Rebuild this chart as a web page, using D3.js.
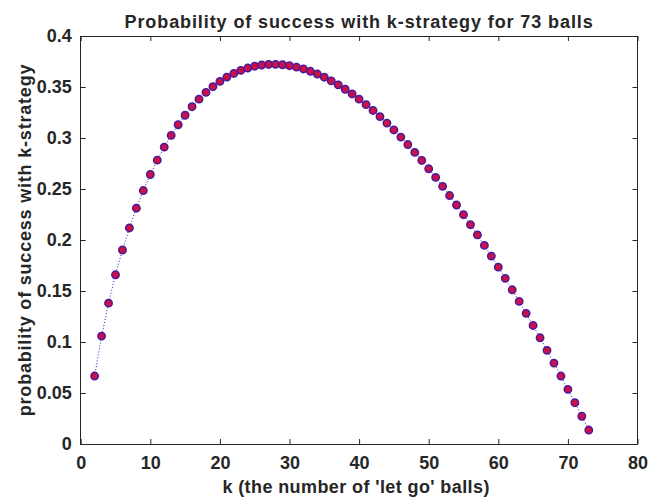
<!DOCTYPE html>
<html>
<head>
<meta charset="utf-8">
<script src="https://cdn.jsdelivr.net/npm/d3@7"></script>
<style>
  body { margin: 0; background: #fff; }
  svg { display: block; }
  text { font-family: "Liberation Sans", Arial, Helvetica, sans-serif; font-weight: bold; fill: #262626; }
</style>
</head>
<body>
<svg id="chart" width="648" height="497"></svg>
<script>
// k values (number of let-go balls) and success probability
var ks = [2, 3, 4, 5, 6, 7, 8, 9, 10, 11, 12, 13, 14, 15, 16, 17, 18, 19, 20, 21,
  22, 23, 24, 25, 26, 27, 28, 29, 30, 31, 32, 33, 34, 35, 36, 37, 38, 39, 40, 41,
  42, 43, 44, 45, 46, 47, 48, 49, 50, 51, 52, 53, 54, 55, 56, 57, 58, 59, 60, 61,
  62, 63, 64, 65, 66, 67, 68, 69, 70, 71, 72, 73];
var probs = [0.0666, 0.1058, 0.1381, 0.1659, 0.1902, 0.2118, 0.2312, 0.2485, 0.2642, 0.2783,
  0.2911, 0.3026, 0.3130, 0.3223, 0.3307, 0.3381, 0.3447, 0.3504, 0.3555, 0.3597,
  0.3633, 0.3663, 0.3686, 0.3704, 0.3715, 0.3721, 0.3722, 0.3718, 0.3709, 0.3695,
  0.3677, 0.3654, 0.3627, 0.3596, 0.3560, 0.3521, 0.3478, 0.3432, 0.3381, 0.3327,
  0.3270, 0.3210, 0.3146, 0.3079, 0.3009, 0.2936, 0.2859, 0.2780, 0.2698, 0.2614,
  0.2526, 0.2436, 0.2343, 0.2248, 0.2150, 0.2050, 0.1947, 0.1842, 0.1734, 0.1624,
  0.1512, 0.1398, 0.1281, 0.1162, 0.1041, 0.0918, 0.0793, 0.0666, 0.0536, 0.0405,
  0.0272, 0.0137];

var xTicks = [0, 10, 20, 30, 40, 50, 60, 70, 80];
var yTicks = [0, 0.05, 0.1, 0.15, 0.2, 0.25, 0.3, 0.35, 0.4];

var titleText = "Probability of success with k-strategy for 73 balls";
var xLabelText = "k (the number of 'let go' balls)";
var yLabelText = "probability of success with k-strategy";

var margin = {top: 36, right: 10.5, bottom: 53, left: 80.7};
var width = 648 - margin.left - margin.right;
var height = 497 - margin.top - margin.bottom;

var svg = d3.select("#chart");
var g = svg.append("g")
  .attr("transform", "translate(" + margin.left + "," + margin.top + ")");

var x = d3.scaleLinear().domain([0, 80]).range([0, width]);
var y = d3.scaleLinear().domain([0, 0.4]).range([height, 0]);

var axisColor = "#262626";
var tickLen = 5;

// MATLAB style box with inward ticks on all sides
function styleAxis(sel) {
  sel.select(".domain").remove();
  sel.selectAll("line").attr("stroke", axisColor).attr("stroke-width", 1);
  sel.selectAll("text")
    .attr("font-size", "18px")
    .attr("font-family", "Liberation Sans, Arial, sans-serif")
    .attr("font-weight", "bold")
    .attr("fill", axisColor);
}

var fmt = function(d) { return String(+d.toFixed(2)); };

g.append("g")
  .attr("transform", "translate(0," + height + ")")
  .call(d3.axisBottom(x).tickValues(xTicks).tickSizeInner(-tickLen).tickSizeOuter(0).tickPadding(12).tickFormat(fmt))
  .call(styleAxis);

g.append("g")
  .call(d3.axisTop(x).tickValues(xTicks).tickSizeInner(-tickLen).tickSizeOuter(0).tickFormat(""))
  .call(styleAxis);

g.append("g")
  .call(d3.axisLeft(y).tickValues(yTicks).tickSizeInner(-tickLen).tickSizeOuter(0).tickPadding(9).tickFormat(fmt))
  .call(styleAxis);

g.append("g")
  .attr("transform", "translate(" + width + ",0)")
  .call(d3.axisRight(y).tickValues(yTicks).tickSizeInner(-tickLen).tickSizeOuter(0).tickFormat(""))
  .call(styleAxis);

g.append("rect")
  .attr("x", 0).attr("y", 0)
  .attr("width", width).attr("height", height)
  .attr("fill", "none")
  .attr("stroke", axisColor)
  .attr("stroke-width", 1)
  .attr("shape-rendering", "crispEdges");

var points = ks.map(function(k, i) { return {k: k, p: probs[i]}; });

// dotted connecting line
g.append("path")
  .datum(points)
  .attr("fill", "none")
  .attr("stroke", "#1f1fb0")
  .attr("stroke-width", 1)
  .attr("stroke-dasharray", "1,2")
  .attr("d", d3.line().x(function(d) { return x(d.k); }).y(function(d) { return y(d.p); }));

g.selectAll("circle.pt")
  .data(points)
  .enter().append("circle")
  .attr("class", "pt")
  .attr("cx", function(d) { return x(d.k); })
  .attr("cy", function(d) { return y(d.p); })
  .attr("r", 3.7)
  .attr("fill", "#cc1045")
  .attr("stroke", "#4a1a9e")
  .attr("stroke-width", 1.5);

// title and axis labels
svg.append("text")
  .attr("x", margin.left + width / 2)
  .attr("y", 27.5)
  .attr("text-anchor", "middle")
  .attr("font-size", "18px")
  .attr("letter-spacing", "0.9px")
  .attr("fill", "#000")
  .text(titleText);

svg.append("text")
  .attr("x", margin.left + width / 2 - 3)
  .attr("y", 493)
  .attr("text-anchor", "middle")
  .attr("font-size", "18px")
  .attr("letter-spacing", "0.4px")
  .text(xLabelText);

svg.append("text")
  .attr("transform", "translate(31," + (margin.top + height / 2) + ") rotate(-90)")
  .attr("text-anchor", "middle")
  .attr("font-size", "18px")
  .attr("letter-spacing", "0.8px")
  .text(yLabelText);
</script>
</body>
</html>
